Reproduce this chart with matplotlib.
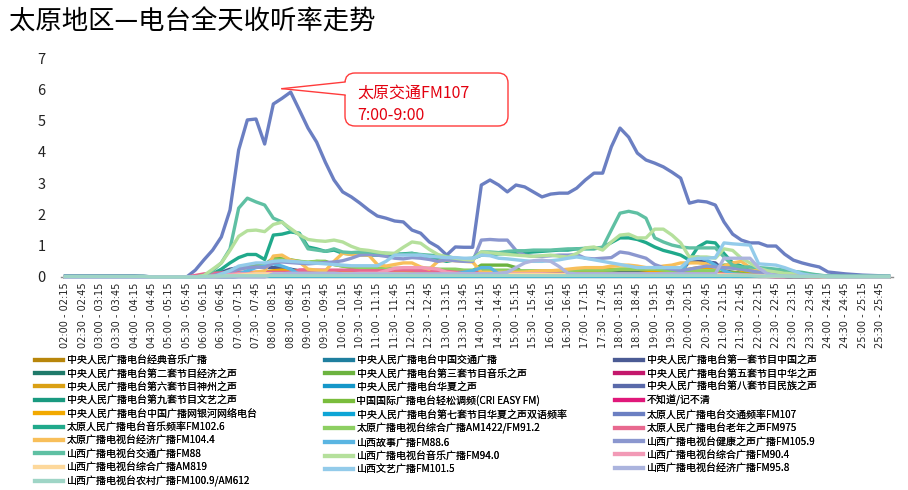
import numpy as np
import matplotlib
matplotlib.use("Agg")
import matplotlib.pyplot as plt
from matplotlib.patches import FancyBboxPatch, Polygon
from matplotlib.lines import Line2D
from matplotlib.transforms import IdentityTransform

plt.rcParams['font.family'] = ['Noto Sans CJK SC', 'DejaVu Sans']

# time slots, 15 minutes each, 02:00 - 25:45
slots = []
for k in range(96):
    m0 = 120 + 15 * k
    m1 = m0 + 15
    slots.append('%02d:%02d - %02d:%02d' % (m0 // 60, m0 % 60, m1 // 60, m1 % 60))

# listening rates
s_jingdian = [0, 0, 0, 0, 0, 0, 0, 0, 0, 0, 0, 0, 0, 0, 0, 0, 0, 0.02, 0.03, 0.03, 0.04, 0.05, 0.05, 0.05,
              0.05, 0.05, 0.04, 0.04, 0.04, 0.03, 0.03, 0.03, 0.03, 0.03, 0.03, 0.03, 0.03, 0.03, 0.03, 0.03, 0.03, 0.03, 0.03, 0.03, 0.03, 0.03, 0.03, 0.03,
              0.03, 0.03, 0.03, 0.03, 0.03, 0.03, 0.03, 0.03, 0.03, 0.03, 0.03, 0.03, 0.03, 0.03, 0.03, 0.03, 0.03, 0.03, 0.03, 0.03, 0.03, 0.03, 0.03, 0.03,
              0.03, 0.03, 0.03, 0.03, 0.03, 0.02, 0.02, 0.02, 0.02, 0.02, 0.02, 0.02, 0.01, 0.01, 0.01, 0.01, 0, 0, 0, 0, 0, 0, 0, 0]
s_jiaotong = [0, 0, 0, 0, 0, 0, 0, 0, 0, 0, 0, 0, 0, 0, 0, 0, 0.02, 0.05, 0.08, 0.1, 0.12, 0.14, 0.14, 0.12,
              0.12, 0.12, 0.1, 0.1, 0.1, 0.08, 0.08, 0.08, 0.08, 0.08, 0.08, 0.08, 0.06, 0.06, 0.06, 0.06, 0.06, 0.06, 0.06, 0.06, 0.06, 0.06, 0.06, 0.06,
              0.08, 0.08, 0.08, 0.08, 0.08, 0.08, 0.08, 0.08, 0.1, 0.1, 0.1, 0.1, 0.12, 0.12, 0.12, 0.12, 0.12, 0.1, 0.1, 0.1, 0.08, 0.08, 0.08, 0.08,
              0.08, 0.08, 0.06, 0.06, 0.06, 0.06, 0.05, 0.05, 0.04, 0.04, 0.03, 0.03, 0.02, 0.02, 0.02, 0.02, 0, 0, 0, 0, 0, 0, 0, 0]
s_zhongguo = [0, 0, 0, 0, 0, 0, 0, 0, 0, 0, 0, 0, 0, 0, 0, 0, 0.03, 0.08, 0.15, 0.25, 0.3, 0.35, 0.35, 0.3,
              0.3, 0.3, 0.25, 0.2, 0.15, 0.12, 0.12, 0.1, 0.1, 0.1, 0.1, 0.1, 0.1, 0.1, 0.1, 0.1, 0.1, 0.08, 0.08, 0.08, 0.08, 0.08, 0.08, 0.08,
              0.08, 0.08, 0.08, 0.1, 0.1, 0.1, 0.1, 0.1, 0.1, 0.12, 0.12, 0.12, 0.15, 0.15, 0.15, 0.15, 0.15, 0.15, 0.15, 0.15, 0.15, 0.15, 0.15, 0.15,
              0.5, 0.5, 0.48, 0.45, 0.2, 0.15, 0.12, 0.1, 0.08, 0.06, 0.05, 0.04, 0.03, 0.02, 0.02, 0.02, 0, 0, 0, 0, 0, 0, 0, 0]
s_jingji = [0, 0, 0, 0, 0, 0, 0, 0, 0, 0, 0, 0, 0, 0, 0, 0, 0, 0.02, 0.05, 0.08, 0.1, 0.1, 0.1, 0.1,
            0.1, 0.1, 0.1, 0.1, 0.08, 0.08, 0.08, 0.08, 0.08, 0.08, 0.06, 0.06, 0.06, 0.06, 0.06, 0.06, 0.06, 0.06, 0.06, 0.06, 0.06, 0.06, 0.06, 0.06,
            0.05, 0.05, 0.05, 0.05, 0.05, 0.05, 0.05, 0.05, 0.05, 0.05, 0.05, 0.05, 0.05, 0.05, 0.05, 0.05, 0.05, 0.05, 0.05, 0.05, 0.05, 0.05, 0.05, 0.05,
            0.05, 0.05, 0.05, 0.05, 0.05, 0.04, 0.04, 0.03, 0.03, 0.02, 0.02, 0.02, 0.01, 0.01, 0.01, 0.01, 0, 0, 0, 0, 0, 0, 0, 0]
s_yinyue = [0, 0, 0, 0, 0, 0, 0, 0, 0, 0, 0, 0, 0, 0, 0, 0, 0, 0.05, 0.1, 0.2, 0.3, 0.35, 0.35, 0.4,
            0.6, 0.58, 0.55, 0.5, 0.45, 0.5, 0.5, 0.4, 0.35, 0.3, 0.3, 0.28, 0.26, 0.25, 0.25, 0.25, 0.25, 0.22, 0.22, 0.22, 0.2, 0.2, 0.2, 0.2,
            0.38, 0.38, 0.38, 0.38, 0.3, 0.1, 0.08, 0.08, 0.08, 0.08, 0.08, 0.08, 0.08, 0.08, 0.08, 0.08, 0.08, 0.08, 0.08, 0.08, 0.08, 0.08, 0.08, 0.08,
            0.08, 0.08, 0.1, 0.2, 0.38, 0.38, 0.32, 0.3, 0.2, 0.15, 0.1, 0.08, 0.05, 0.04, 0.03, 0.02, 0, 0, 0, 0, 0, 0, 0, 0]
s_zhonghua = [0, 0, 0, 0, 0, 0, 0, 0, 0, 0, 0, 0, 0, 0, 0, 0, 0, 0, 0.02, 0.03, 0.04, 0.05, 0.05, 0.05,
              0.05, 0.05, 0.04, 0.04, 0.04, 0.04, 0.04, 0.04, 0.03, 0.03, 0.03, 0.03, 0.03, 0.03, 0.03, 0.03, 0.03, 0.03, 0.03, 0.03, 0.03, 0.03, 0.03, 0.03,
              0.03, 0.03, 0.03, 0.03, 0.03, 0.03, 0.03, 0.03, 0.03, 0.03, 0.03, 0.03, 0.03, 0.03, 0.03, 0.03, 0.03, 0.03, 0.03, 0.03, 0.03, 0.03, 0.03, 0.03,
              0.03, 0.03, 0.03, 0.03, 0.03, 0.03, 0.02, 0.02, 0.02, 0.02, 0.01, 0.01, 0.01, 0.01, 0, 0, 0, 0, 0, 0, 0, 0, 0, 0]
s_shenzhou = [0, 0, 0, 0, 0, 0, 0, 0, 0, 0, 0, 0, 0, 0, 0, 0, 0, 0, 0.03, 0.05, 0.06, 0.06, 0.06, 0.06,
              0.06, 0.06, 0.06, 0.06, 0.06, 0.06, 0.06, 0.06, 0.05, 0.05, 0.05, 0.05, 0.05, 0.05, 0.05, 0.05, 0.05, 0.05, 0.05, 0.05, 0.05, 0.05, 0.05, 0.05,
              0.05, 0.05, 0.05, 0.05, 0.05, 0.05, 0.05, 0.05, 0.05, 0.05, 0.05, 0.05, 0.05, 0.05, 0.05, 0.05, 0.05, 0.05, 0.05, 0.05, 0.05, 0.05, 0.05, 0.05,
              0.05, 0.05, 0.05, 0.05, 0.04, 0.04, 0.04, 0.04, 0.03, 0.03, 0.03, 0.03, 0.02, 0.02, 0.02, 0.02, 0, 0, 0, 0, 0, 0, 0, 0]
s_huaxia = [0, 0, 0, 0, 0, 0, 0, 0, 0, 0, 0, 0, 0, 0, 0, 0, 0, 0, 0, 0.02, 0.03, 0.04, 0.04, 0.04,
            0.04, 0.04, 0.04, 0.04, 0.04, 0.04, 0.04, 0.04, 0.03, 0.03, 0.03, 0.03, 0.03, 0.03, 0.03, 0.03, 0.03, 0.03, 0.03, 0.03, 0.03, 0.03, 0.03, 0.03,
            0.03, 0.03, 0.03, 0.03, 0.03, 0.03, 0.03, 0.03, 0.03, 0.03, 0.03, 0.03, 0.03, 0.03, 0.03, 0.03, 0.03, 0.03, 0.03, 0.03, 0.03, 0.03, 0.03, 0.03,
            0.03, 0.03, 0.03, 0.03, 0.03, 0.03, 0.03, 0.03, 0.02, 0.02, 0.02, 0.02, 0.01, 0.01, 0.01, 0.01, 0, 0, 0, 0, 0, 0, 0, 0]
s_minzu = [0, 0, 0, 0, 0, 0, 0, 0, 0, 0, 0, 0, 0, 0, 0, 0, 0, 0, 0, 0, 0.02, 0.02, 0.02, 0.02,
           0.02, 0.02, 0.02, 0.02, 0.02, 0.02, 0.02, 0.02, 0.02, 0.02, 0.02, 0.02, 0.02, 0.02, 0.02, 0.02, 0.02, 0.02, 0.02, 0.02, 0.02, 0.02, 0.02, 0.02,
           0.02, 0.02, 0.02, 0.02, 0.02, 0.02, 0.02, 0.02, 0.02, 0.02, 0.02, 0.02, 0.02, 0.02, 0.02, 0.02, 0.02, 0.02, 0.02, 0.02, 0.02, 0.02, 0.02, 0.02,
           0.02, 0.02, 0.02, 0.02, 0.02, 0.02, 0.02, 0.02, 0.02, 0.02, 0.02, 0.02, 0.01, 0.01, 0.01, 0.01, 0, 0, 0, 0, 0, 0, 0, 0]
s_wenyi = [0, 0, 0, 0, 0, 0, 0, 0, 0, 0, 0, 0, 0, 0, 0, 0, 0, 0.03, 0.05, 0.08, 0.1, 0.12, 0.12, 0.12,
           0.12, 0.12, 0.1, 0.1, 0.1, 0.1, 0.08, 0.08, 0.08, 0.08, 0.08, 0.08, 0.08, 0.08, 0.08, 0.08, 0.08, 0.08, 0.08, 0.08, 0.08, 0.08, 0.08, 0.08,
           0.08, 0.08, 0.08, 0.08, 0.08, 0.08, 0.08, 0.08, 0.08, 0.08, 0.08, 0.08, 0.08, 0.08, 0.08, 0.08, 0.08, 0.08, 0.08, 0.08, 0.08, 0.08, 0.08, 0.08,
           0.08, 0.08, 0.08, 0.06, 0.06, 0.05, 0.05, 0.04, 0.04, 0.03, 0.03, 0.02, 0.02, 0.02, 0.01, 0.01, 0, 0, 0, 0, 0, 0, 0, 0]
s_cri = [0, 0, 0, 0, 0, 0, 0, 0, 0, 0, 0, 0, 0, 0, 0, 0, 0, 0.03, 0.05, 0.08, 0.1, 0.12, 0.12, 0.12,
         0.15, 0.15, 0.15, 0.15, 0.12, 0.12, 0.12, 0.12, 0.12, 0.12, 0.1, 0.1, 0.1, 0.1, 0.1, 0.1, 0.1, 0.1, 0.12, 0.15, 0.2, 0.2, 0.2, 0.2,
         0.2, 0.2, 0.2, 0.2, 0.15, 0.12, 0.12, 0.12, 0.12, 0.12, 0.12, 0.12, 0.12, 0.12, 0.12, 0.12, 0.12, 0.12, 0.12, 0.12, 0.12, 0.12, 0.12, 0.12,
         0.12, 0.12, 0.12, 0.12, 0.15, 0.15, 0.12, 0.1, 0.08, 0.06, 0.05, 0.04, 0.03, 0.02, 0.02, 0.02, 0, 0, 0, 0, 0, 0, 0, 0]
s_bzd = [0, 0, 0, 0, 0, 0, 0, 0, 0, 0, 0, 0, 0, 0, 0, 0, 0, 0.02, 0.03, 0.04, 0.05, 0.05, 0.06, 0.06,
         0.06, 0.08, 0.1, 0.22, 0.22, 0.08, 0.06, 0.06, 0.05, 0.05, 0.05, 0.05, 0.05, 0.05, 0.05, 0.05, 0.05, 0.05, 0.05, 0.05, 0.05, 0.05, 0.05, 0.05,
         0.05, 0.05, 0.05, 0.05, 0.05, 0.05, 0.05, 0.05, 0.05, 0.05, 0.05, 0.05, 0.05, 0.05, 0.05, 0.05, 0.05, 0.05, 0.05, 0.05, 0.05, 0.05, 0.05, 0.05,
         0.05, 0.05, 0.05, 0.05, 0.04, 0.04, 0.03, 0.03, 0.02, 0.02, 0.02, 0.02, 0.01, 0.01, 0.01, 0.01, 0, 0, 0, 0, 0, 0, 0, 0]
s_yinhe = [0, 0, 0, 0, 0, 0, 0, 0, 0, 0, 0, 0, 0, 0, 0, 0, 0, 0, 0.03, 0.06, 0.1, 0.12, 0.15, 0.15,
           0.2, 0.22, 0.2, 0.18, 0.16, 0.15, 0.15, 0.15, 0.15, 0.15, 0.15, 0.15, 0.15, 0.15, 0.15, 0.15, 0.15, 0.15, 0.18, 0.2, 0.2, 0.2, 0.18, 0.18,
           0.15, 0.15, 0.15, 0.15, 0.15, 0.15, 0.15, 0.18, 0.18, 0.2, 0.2, 0.22, 0.22, 0.22, 0.22, 0.25, 0.25, 0.25, 0.25, 0.22, 0.2, 0.2, 0.2, 0.22,
           0.25, 0.3, 0.3, 0.3, 0.3, 0.3, 0.22, 0.18, 0.15, 0.12, 0.1, 0.08, 0.05, 0.04, 0.03, 0.02, 0, 0, 0, 0, 0, 0, 0, 0]
s_qitao = [0, 0, 0, 0, 0, 0, 0, 0, 0, 0, 0, 0, 0, 0, 0, 0, 0, 0, 0, 0, 0.02, 0.02, 0.02, 0.02,
           0.02, 0.02, 0.02, 0.02, 0.02, 0.02, 0.02, 0.02, 0.02, 0.02, 0.02, 0.02, 0.02, 0.02, 0.02, 0.02, 0.02, 0.02, 0.02, 0.02, 0.02, 0.02, 0.02, 0.02,
           0.02, 0.02, 0.02, 0.02, 0.02, 0.02, 0.02, 0.02, 0.02, 0.02, 0.02, 0.02, 0.02, 0.02, 0.02, 0.02, 0.02, 0.02, 0.02, 0.02, 0.02, 0.02, 0.02, 0.02,
           0.02, 0.02, 0.02, 0.02, 0.02, 0.02, 0.02, 0.02, 0.02, 0.02, 0.02, 0.02, 0.01, 0.01, 0.01, 0.01, 0, 0, 0, 0, 0, 0, 0, 0]
s_fm107 = [0.04, 0.04, 0.04, 0.04, 0.04, 0.04, 0.04, 0.04, 0.04, 0.03, 0, 0, 0, 0, 0, 0.22, 0.55, 0.86, 1.28, 2.14, 4.06, 5.02, 5.05, 4.25,
           5.53, 5.71, 5.91, 5.34, 4.76, 4.31, 3.67, 3.10, 2.72, 2.56, 2.36, 2.14, 1.95, 1.88, 1.79, 1.76, 1.50, 1.40, 1.12, 0.96, 0.70, 0.96, 0.95, 0.95,
           2.94, 3.10, 2.94, 2.72, 2.94, 2.88, 2.72, 2.56, 2.65, 2.68, 2.68, 2.84, 3.10, 3.32, 3.32, 4.16, 4.76, 4.47, 3.96, 3.74, 3.64, 3.52, 3.35, 3.16,
           2.36, 2.43, 2.40, 2.30, 1.76, 1.37, 1.18, 1.09, 1.09, 0.99, 0.99, 0.73, 0.54, 0.45, 0.38, 0.32, 0.16, 0.13, 0.10, 0.08, 0.06, 0.05, 0.04, 0.03]
s_fm1026 = [0, 0, 0, 0, 0, 0, 0, 0, 0, 0, 0, 0, 0, 0, 0, 0, 0, 0.1, 0.25, 0.45, 0.62, 0.72, 0.72, 0.56,
            1.34, 1.37, 1.44, 1.4, 0.96, 0.9, 0.82, 0.86, 0.76, 0.73, 0.72, 0.7, 0.7, 0.7, 0.72, 0.74, 0.76, 0.7, 0.64, 0.56, 0.5, 0.55, 0.56, 0.58,
            0.7, 0.72, 0.74, 0.75, 0.76, 0.78, 0.8, 0.82, 0.84, 0.86, 0.86, 0.9, 0.9, 0.9, 0.95, 1.1, 1.25, 1.25, 1.2, 1.1, 0.96, 0.85, 0.78, 0.7,
            0.54, 0.96, 1.12, 1.09, 0.75, 0.45, 0.35, 0.3, 0.25, 0.22, 0.2, 0.16, 0.12, 0.1, 0.08, 0.05, 0.03, 0.02, 0.02, 0.02, 0.02, 0.02, 0.02, 0.02]
s_am1422 = [0, 0, 0, 0, 0, 0, 0, 0, 0, 0, 0, 0, 0, 0, 0, 0, 0, 0.05, 0.1, 0.15, 0.25, 0.3, 0.32, 0.35,
            0.55, 0.55, 0.52, 0.5, 0.48, 0.5, 0.48, 0.4, 0.35, 0.32, 0.3, 0.3, 0.28, 0.28, 0.28, 0.28, 0.28, 0.28, 0.28, 0.25, 0.25, 0.25, 0.22, 0.22,
            0.22, 0.22, 0.22, 0.22, 0.2, 0.2, 0.2, 0.2, 0.2, 0.2, 0.2, 0.22, 0.22, 0.22, 0.22, 0.22, 0.25, 0.25, 0.25, 0.25, 0.25, 0.22, 0.2, 0.2,
            0.2, 0.2, 0.2, 0.2, 0.3, 0.3, 0.25, 0.2, 0.15, 0.12, 0.1, 0.08, 0.05, 0.04, 0.03, 0.02, 0, 0, 0, 0, 0, 0, 0, 0]
s_fm975 = [0, 0, 0, 0, 0, 0, 0, 0, 0, 0, 0, 0, 0, 0, 0, 0.05, 0.1, 0.12, 0.13, 0.14, 0.15, 0.15, 0.15, 0.15,
           0.15, 0.15, 0.15, 0.2, 0.22, 0.22, 0.22, 0.22, 0.22, 0.22, 0.2, 0.2, 0.2, 0.2, 0.22, 0.22, 0.22, 0.2, 0.2, 0.18, 0.18, 0.15, 0.15, 0.15,
           0.12, 0.12, 0.12, 0.12, 0.12, 0.12, 0.12, 0.12, 0.1, 0.1, 0.1, 0.1, 0.1, 0.1, 0.1, 0.1, 0.1, 0.1, 0.1, 0.1, 0.1, 0.1, 0.1, 0.1,
           0.1, 0.1, 0.1, 0.1, 0.1, 0.08, 0.08, 0.06, 0.05, 0.04, 0.03, 0.02, 0.02, 0.02, 0.01, 0.01, 0, 0, 0, 0, 0, 0, 0, 0]
s_fm1044 = [0, 0, 0, 0, 0, 0, 0, 0, 0, 0, 0, 0, 0, 0, 0, 0, 0, 0, 0, 0, 0.05, 0.1, 0.15, 0.2,
            0.67, 0.7, 0.54, 0.48, 0.25, 0.22, 0.2, 0.5, 0.76, 0.72, 0.7, 0.7, 0.4, 0.35, 0.4, 0.45, 0.45, 0.32, 0.25, 0.5, 0.54, 0.52, 0.5, 0.48,
            0.15, 0.15, 0.15, 0.15, 0.15, 0.16, 0.18, 0.2, 0.2, 0.22, 0.25, 0.28, 0.3, 0.3, 0.3, 0.35, 0.38, 0.38, 0.35, 0.3, 0.3, 0.35, 0.38, 0.45,
            0.45, 0.45, 0.42, 0.3, 0.35, 0.45, 0.5, 0.3, 0.25, 0.2, 0.15, 0.1, 0.05, 0.03, 0.02, 0.02, 0, 0, 0, 0, 0, 0, 0, 0]
s_fm886 = [0, 0, 0, 0, 0, 0, 0, 0, 0, 0, 0, 0, 0, 0, 0, 0, 0, 0, 0, 0, 0.1, 0.2, 0.3, 0.35,
           0.42, 0.35, 0.25, 0.08, 0.05, 0.05, 0.05, 0.05, 0.05, 0.05, 0.05, 0.05, 0.05, 0.05, 0.05, 0.05, 0.05, 0.05, 0.05, 0.05, 0.08, 0.1, 0.15, 0.2,
           0.3, 0.3, 0.1, 0.08, 0.08, 0.08, 0.08, 0.08, 0.08, 0.08, 0.08, 0.08, 0.08, 0.08, 0.08, 0.08, 0.08, 0.08, 0.08, 0.08, 0.08, 0.08, 0.08, 0.08,
           0.6, 0.64, 0.54, 0.38, 0.2, 0.1, 0.08, 0.06, 0.05, 0.04, 0.03, 0.02, 0.02, 0.02, 0.01, 0.01, 0, 0, 0, 0, 0, 0, 0, 0]
s_fm1059 = [0, 0, 0, 0, 0, 0, 0, 0, 0, 0, 0, 0, 0, 0, 0, 0, 0, 0.05, 0.1, 0.15, 0.25, 0.3, 0.32, 0.3,
            0.45, 0.48, 0.46, 0.44, 0.42, 0.44, 0.46, 0.48, 0.52, 0.6, 0.7, 0.72, 0.7, 0.66, 0.6, 0.58, 0.62, 0.6, 0.56, 0.5, 0.55, 0.52, 0.5, 0.5,
            1.18, 1.2, 1.18, 1.18, 0.85, 0.7, 0.66, 0.66, 0.68, 0.7, 0.7, 0.72, 0.6, 0.58, 0.6, 0.62, 0.8, 0.76, 0.68, 0.6, 0.4, 0.3, 0.25, 0.2,
            0.25, 0.3, 0.35, 0.32, 0.3, 0.28, 0.25, 0.2, 0.15, 0.12, 0.1, 0.08, 0.06, 0.05, 0.04, 0.03, 0.02, 0.02, 0.02, 0.02, 0.02, 0.02, 0.02, 0.02]
s_fm88 = [0.02, 0.02, 0.02, 0.02, 0.02, 0.02, 0.02, 0.02, 0.02, 0.02, 0, 0, 0, 0, 0, 0, 0.05, 0.2, 0.45, 0.9, 2.2, 2.52, 2.4, 2.3,
          1.88, 1.76, 1.5, 1.36, 0.9, 0.86, 0.82, 0.9, 0.8, 0.78, 0.8, 0.8, 0.78, 0.76, 0.74, 0.72, 0.75, 0.72, 0.7, 0.68, 0.66, 0.6, 0.58, 0.6,
          0.8, 0.8, 0.78, 0.82, 0.84, 0.84, 0.86, 0.86, 0.86, 0.88, 0.9, 0.9, 0.92, 0.92, 0.95, 1.5, 2.04, 2.1, 2.04, 1.88, 1.25, 1.12, 1.02, 0.96,
          0.93, 0.93, 0.93, 0.93, 0.64, 0.38, 0.32, 0.32, 0.30, 0.28, 0.25, 0.22, 0.18, 0.15, 0.10, 0.06, 0.03, 0.03, 0.02, 0.02, 0.02, 0.02, 0.02, 0.02]
s_fm94 = [0, 0, 0, 0, 0, 0, 0, 0, 0, 0, 0, 0, 0, 0, 0, 0, 0.05, 0.25, 0.45, 0.85, 1.3, 1.48, 1.5, 1.45,
          1.68, 1.75, 1.55, 1.35, 1.2, 1.16, 1.14, 1.18, 1.12, 0.98, 0.88, 0.85, 0.8, 0.76, 0.76, 0.95, 1.12, 1.08, 0.88, 0.72, 0.64, 0.6, 0.56, 0.54,
          0.8, 0.77, 0.75, 0.72, 0.7, 0.68, 0.66, 0.68, 0.7, 0.66, 0.64, 0.75, 0.93, 0.96, 0.86, 1.12, 1.34, 1.37, 1.25, 1.25, 1.53, 1.53, 1.34, 1.09,
          0.64, 0.64, 0.64, 0.6, 0.9, 0.85, 0.6, 0.45, 0.28, 0.2, 0.16, 0.12, 0.1, 0.08, 0.05, 0.03, 0.02, 0.02, 0.02, 0.02, 0.02, 0.02, 0.02, 0.02]
s_fm904 = [0, 0, 0, 0, 0, 0, 0, 0, 0, 0, 0, 0, 0, 0, 0, 0, 0, 0.03, 0.05, 0.08, 0.1, 0.1, 0.1, 0.1,
           0.1, 0.1, 0.1, 0.1, 0.1, 0.1, 0.1, 0.1, 0.1, 0.1, 0.12, 0.12, 0.12, 0.2, 0.28, 0.3, 0.3, 0.3, 0.28, 0.25, 0.15, 0.12, 0.1, 0.1,
           0.1, 0.1, 0.1, 0.1, 0.1, 0.1, 0.1, 0.1, 0.08, 0.08, 0.08, 0.08, 0.08, 0.08, 0.08, 0.08, 0.08, 0.08, 0.08, 0.08, 0.08, 0.08, 0.08, 0.08,
           0.08, 0.08, 0.08, 0.08, 0.08, 0.06, 0.06, 0.05, 0.05, 0.04, 0.03, 0.02, 0.02, 0.02, 0.01, 0.01, 0, 0, 0, 0, 0, 0, 0, 0]
s_am819 = [0, 0, 0, 0, 0, 0, 0, 0, 0, 0, 0, 0, 0, 0, 0, 0, 0, 0, 0.02, 0.04, 0.06, 0.08, 0.1, 0.1,
           0.1, 0.1, 0.1, 0.1, 0.1, 0.1, 0.1, 0.1, 0.1, 0.1, 0.1, 0.1, 0.1, 0.1, 0.1, 0.1, 0.08, 0.08, 0.08, 0.08, 0.08, 0.08, 0.08, 0.08,
           0.08, 0.08, 0.08, 0.08, 0.08, 0.08, 0.08, 0.08, 0.08, 0.08, 0.08, 0.08, 0.08, 0.08, 0.08, 0.08, 0.08, 0.08, 0.08, 0.08, 0.08, 0.08, 0.08, 0.08,
           0.08, 0.08, 0.08, 0.08, 0.06, 0.06, 0.05, 0.05, 0.04, 0.03, 0.02, 0.02, 0.01, 0.01, 0.01, 0.01, 0, 0, 0, 0, 0, 0, 0, 0]
s_fm1015 = [0, 0, 0, 0, 0, 0, 0, 0, 0, 0, 0, 0, 0, 0, 0, 0, 0, 0, 0.1, 0.2, 0.35, 0.4, 0.45, 0.45,
            0.5, 0.52, 0.5, 0.48, 0.46, 0.44, 0.42, 0.4, 0.38, 0.36, 0.36, 0.36, 0.36, 0.5, 0.7, 0.7, 0.7, 0.7, 0.66, 0.64, 0.62, 0.62, 0.6, 0.6,
            0.7, 0.68, 0.6, 0.58, 0.55, 0.52, 0.5, 0.5, 0.52, 0.55, 0.6, 0.64, 0.6, 0.55, 0.5, 0.45, 0.4, 0.35, 0.3, 0.3, 0.3, 0.3, 0.3, 0.3,
            0.55, 0.6, 0.6, 0.62, 1.09, 1.06, 1.04, 1.02, 0.42, 0.4, 0.38, 0.3, 0.2, 0.1, 0.05, 0.03, 0.02, 0.02, 0.02, 0.02, 0.02, 0.02, 0.02, 0.02]
s_fm958 = [0, 0, 0, 0, 0, 0, 0, 0, 0, 0, 0, 0, 0, 0, 0, 0, 0, 0, 0, 0, 0, 0, 0, 0,
           0.1, 0.1, 0.12, 0.12, 0.12, 0.12, 0.12, 0.12, 0.1, 0.1, 0.1, 0.1, 0.1, 0.1, 0.1, 0.1, 0.1, 0.1, 0.1, 0.1, 0.1, 0.1, 0.1, 0.1,
           0.1, 0.1, 0.12, 0.15, 0.3, 0.45, 0.52, 0.54, 0.5, 0.33, 0.12, 0.1, 0.1, 0.1, 0.1, 0.1, 0.1, 0.1, 0.1, 0.1, 0.1, 0.1, 0.1, 0.1,
           0.1, 0.1, 0.1, 0.1, 0.6, 0.6, 0.6, 0.6, 0.3, 0.1, 0.05, 0.03, 0.02, 0.02, 0.02, 0.02, 0, 0, 0, 0, 0, 0, 0, 0]
s_fm1009 = [0.02, 0.02, 0.02, 0.02, 0.02, 0.02, 0.02, 0.02, 0.02, 0.02, 0, 0, 0, 0, 0, 0, 0.02, 0.03, 0.03, 0.04, 0.04, 0.04, 0.04, 0.04,
            0.04, 0.04, 0.04, 0.04, 0.04, 0.04, 0.04, 0.04, 0.04, 0.04, 0.04, 0.04, 0.04, 0.04, 0.04, 0.04, 0.04, 0.04, 0.04, 0.04, 0.04, 0.04, 0.04, 0.04,
            0.04, 0.04, 0.04, 0.04, 0.04, 0.04, 0.04, 0.04, 0.04, 0.04, 0.04, 0.04, 0.04, 0.04, 0.04, 0.04, 0.04, 0.04, 0.04, 0.04, 0.04, 0.04, 0.04, 0.04,
            0.04, 0.04, 0.04, 0.04, 0.04, 0.04, 0.04, 0.04, 0.03, 0.03, 0.03, 0.03, 0.02, 0.02, 0.02, 0.02, 0.01, 0.01, 0.01, 0.01, 0.01, 0.01, 0.01, 0.01]

# legend order (row by row, 3 per row), same as drawing order
names = ['中央人民广播电台经典音乐广播', '中央人民广播电台中国交通广播', '中央人民广播电台第一套节目中国之声',
         '中央人民广播电台第二套节目经济之声', '中央人民广播电台第三套节目音乐之声', '中央人民广播电台第五套节目中华之声',
         '中央人民广播电台第六套节目神州之声', '中央人民广播电台华夏之声', '中央人民广播电台第八套节目民族之声',
         '中央人民广播电台第九套节目文艺之声', '中国国际广播电台轻松调频(CRI EASY FM)', '不知道/记不清',
         '中央人民广播电台中国广播网银河网络电台', '中央人民广播电台第七套节目华夏之声双语频率', '太原人民广播电台交通频率FM107',
         '太原人民广播电台音乐频率FM102.6', '太原广播电视台综合广播AM1422/FM91.2', '太原人民广播电台老年之声FM975',
         '太原广播电视台经济广播FM104.4', '山西故事广播FM88.6', '山西广播电视台健康之声广播FM105.9',
         '山西广播电视台交通广播FM88', '山西广播电视台音乐广播FM94.0', '山西广播电视台综合广播FM90.4',
         '山西广播电视台综合广播AM819', '山西文艺广播FM101.5', '山西广播电视台经济广播FM95.8',
         '山西广播电视台农村广播FM100.9/AM612']
series = [s_jingdian, s_jiaotong, s_zhongguo, s_jingji, s_yinyue, s_zhonghua,
          s_shenzhou, s_huaxia, s_minzu, s_wenyi, s_cri, s_bzd,
          s_yinhe, s_qitao, s_fm107, s_fm1026, s_am1422, s_fm975,
          s_fm1044, s_fm886, s_fm1059, s_fm88, s_fm94, s_fm904,
          s_am819, s_fm1015, s_fm958, s_fm1009]
colors = ['#b8860b', '#1f7f9f', '#4b5b94', '#1f7a6a', '#6cb33f', '#c4186c',
          '#daa014', '#1597c9', '#5a6aaa', '#1a9a80', '#7abd3c', '#e0187a',
          '#f2a900', '#0ea5d6', '#6b7fc2', '#20a98b', '#8dcf62', '#e8698f',
          '#f8bf5a', '#5ab5e2', '#8b97cf', '#5fc0a3', '#b5e09c', '#f29ab6',
          '#fdd89b', '#93cbea', '#abb4de', '#9fd5c6']

W, H = 908, 490
fig = plt.figure(figsize=(W / 100, H / 100), dpi=100)
ax = fig.add_axes([61 / W, 1 - 277 / H, 832 / W, 219 / H])

x = np.arange(len(slots))
for vals, col in zip(series, colors):
    ax.plot(x, vals, color=col, lw=2.4, solid_joinstyle='round', clip_on=False, zorder=3)

ax.set_xlim(-0.5, len(slots) - 0.5)
ax.set_ylim(0, 7)
ax.set_yticks(range(8))
ax.set_xticks(x[::2])
ax.set_xticklabels(slots[::2], rotation=90, fontsize=7, family='DejaVu Sans', color='#222222')
ax.tick_params(axis='x', length=0, pad=4)
ax.tick_params(axis='y', length=0, pad=11, labelsize=10.5, labelcolor='#222222')
for s in ['top', 'right', 'left']:
    ax.spines[s].set_visible(False)
ax.spines['bottom'].set_color('#8c8c8c')
ax.spines['bottom'].set_linewidth(1.0)

# title
fig.text(9 / W, 1 - 22 / H, '太原地区—电台全天收听率走势', fontsize=19, ha='left', va='center')

# callout for FM107
px = IdentityTransform()
box = FancyBboxPatch((345, H - 126), 163, 53, boxstyle='round,pad=0,rounding_size=10',
                     transform=px, fc='white', ec='#ff3b3b', lw=1.0, zorder=5)
fig.add_artist(box)
tip = ax.transData.transform((25.0, 6.02))
wedge = Polygon([tip, (345, H - 82), (348, H - 82), (348, H - 95), (345, H - 95)],
                closed=True, transform=px, fc='white', ec='none', zorder=6)
fig.add_artist(wedge)
fig.add_artist(Line2D([tip[0], 345], [tip[1], H - 82], transform=px, color='#ff3b3b', lw=1.0, zorder=7))
fig.add_artist(Line2D([tip[0], 345], [tip[1], H - 95], transform=px, color='#ff3b3b', lw=1.0, zorder=7))
fig.text(357, H - 93, '太原交通FM107', transform=px, fontsize=11.5, color='#e3000f', ha='left', va='center', zorder=8)
fig.text(357, H - 115, '7:00-9:00', transform=px, fontsize=11.5, color='#e3000f', ha='left', va='center', zorder=8)

# legend: three columns placed where the reference has them
handles = [Line2D([], [], color=c, lw=3) for c in colors]
col_x = [35, 325, 615]
for c in range(3):
    leg = fig.legend(handles[c::3], names[c::3], loc='upper left',
                     bbox_to_anchor=(col_x[c] / W, 1 - 355 / H), bbox_transform=fig.transFigure,
                     frameon=False, fontsize=7.2, borderpad=0, borderaxespad=0,
                     handlelength=2.8, handletextpad=0.35, labelspacing=0.34)
    fig.add_artist(leg)

fig.savefig('out.png', dpi=100)
